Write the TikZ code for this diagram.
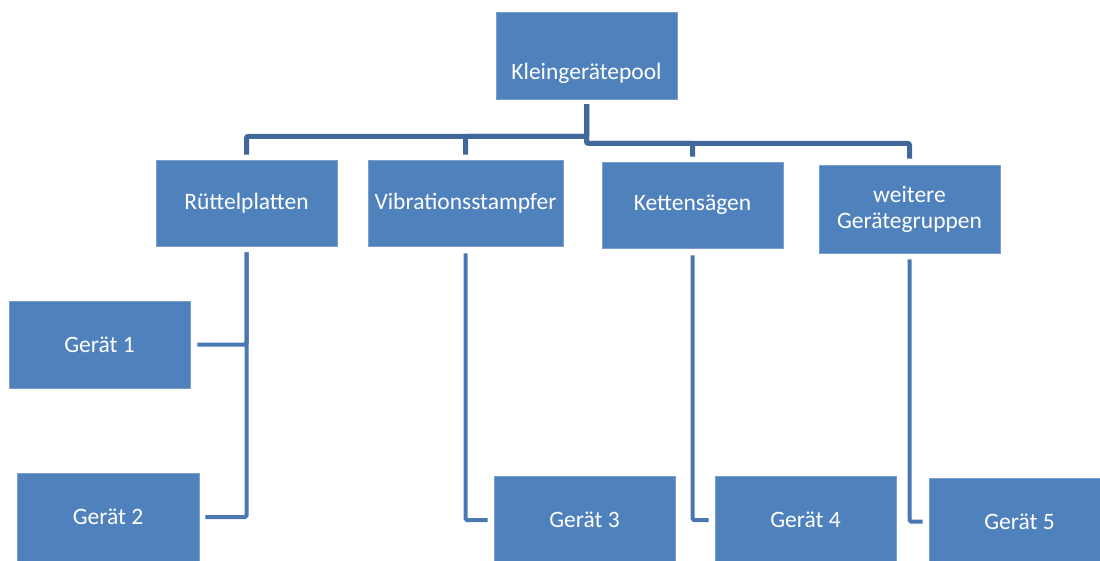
\documentclass[tikz,border=0pt]{standalone}
\usepackage{fontspec}
\setmainfont{Carlito}
\definecolor{boxblue}{HTML}{4F81BD}
\definecolor{boxedge}{HTML}{7A9FCE}
\definecolor{lineA}{HTML}{41689A}
\definecolor{lineB}{HTML}{4A78B2}
\begin{document}
\begin{tikzpicture}[x=1pt,y=-1pt,
  box/.style={rectangle, fill=boxblue, draw=boxedge, line width=0.6pt, text=white,
    font=\fontsize{23.5}{26}\selectfont, align=center, inner sep=0pt,
    minimum width=181pt, minimum height=87pt},
  topline/.style={draw=lineA, line width=5pt, rounded corners=2pt},
  subline/.style={draw=lineB, line width=4pt, rounded corners=1.5pt}]
\useasboundingbox (0,0) rectangle (1100,561);

\node[box, text height=49pt, text depth=0pt] (kp) at (586.5,55.5) {Kleingerätepool};
\node[box, minimum height=86pt] (rp) at (246.5,203) {Rüttelplatten};
\node[box, minimum width=195pt, minimum height=86pt] (vs) at (465.5,203) {Vibrationsstampfer};
\node[box, minimum height=86pt] (ks) at (692.5,205) {Kettensägen};
\node[box, minimum height=88pt] (wg) at (909.5,209) {weitere\\Gerätegruppen};
\node[box] (g1) at (99.5,344.5) {Gerät 1};
\node[box, minimum width=182pt, minimum height=88pt] (g2) at (108,517) {Gerät 2};
\node[box, minimum height=88pt] (g3) at (584.5,520) {Gerät 3};
\node[box, minimum height=88pt] (g4) at (805.5,520) {Gerät 4};
\node[box] (g5) at (1019.5,521.5) {Gerät 5};

\draw[topline] ([yshift=-5pt]kp.south) -- ++(0,32) -| ([yshift=5pt]rp.north);
\draw[topline] ([yshift=-5pt]kp.south) -- ++(0,32) -| ([yshift=5pt]vs.north);
\draw[topline] ([yshift=-5pt]kp.south) -- ++(0,39) -| ([yshift=5pt]ks.north);
\draw[topline] ([yshift=-5pt]kp.south) -- ++(0,39) -| ([yshift=6pt]wg.north);

\draw[subline] ([yshift=-6pt]rp.south) |- ([xshift=7pt]g1.east);
\draw[subline] ([yshift=-6pt]rp.south) |- ([xshift=6pt]g2.east);
\draw[subline] ([yshift=-7pt]vs.south) |- ([xshift=-6pt]g3.west);
\draw[subline] ([yshift=-7pt]ks.south) |- ([xshift=-6pt]g4.west);
\draw[subline] ([yshift=-6pt]wg.south) |- ([xshift=-6pt]g5.west);
\end{tikzpicture}
\end{document}
